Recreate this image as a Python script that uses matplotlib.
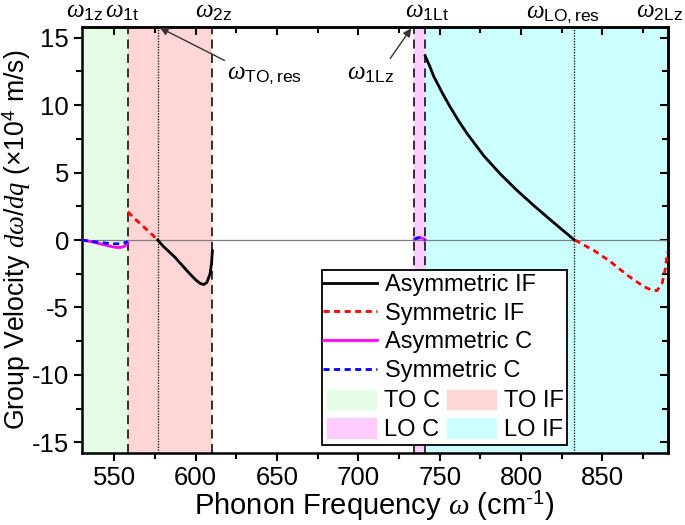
import matplotlib
matplotlib.use("Agg")
import matplotlib.pyplot as plt
from matplotlib.patches import Patch, Rectangle
from matplotlib.lines import Line2D
import matplotlib.transforms as mtransforms

plt.rcParams['font.family'] = ['Liberation Sans', 'DejaVu Sans']
plt.rcParams['mathtext.fontset'] = 'custom'
plt.rcParams['mathtext.rm'] = 'Liberation Sans'
plt.rcParams['mathtext.it'] = 'Liberation Serif:italic'
plt.rcParams['mathtext.bf'] = 'Liberation Sans:bold'
plt.rcParams['axes.unicode_minus'] = False

# ---- data ----
asym_if_1_x = [576.7, 580, 587.4, 595.6, 600, 602.8, 605, 606.9, 608.9, 609.8, 610.3]
asym_if_1_y = [0, -0.45, -1.29, -2.4, -2.95, -3.22, -3.3, -3.15, -2.5, -1.7, -0.8]
asym_if_2_x = [741.1, 744.2, 746.2, 751.4, 756.5, 761.6, 766.8, 777.0, 787.3, 797.5, 807.7, 818.0, 832.8]
asym_if_2_y = [13.65, 12.79, 12.17, 10.95, 9.85, 8.84, 7.9, 6.26, 4.89, 3.68, 2.57, 1.5, 0]
sym_if_1_x = [558.3, 562, 567, 572, 576.7]
sym_if_1_y = [2.1, 1.65, 1.1, 0.55, 0]
sym_if_2_x = [833, 844.7, 854.9, 865.2, 875.4, 880, 883.6, 886.7, 888.5, 890]
sym_if_2_y = [0, -0.77, -1.6, -2.6, -3.45, -3.7, -3.75, -3.2, -2.2, -0.9]
asym_c_1_x = [530, 536, 542, 547, 551, 554, 556.5, 558.3]
asym_c_1_y = [0, -0.12, -0.3, -0.45, -0.55, -0.55, -0.45, -0.2]
sym_c_1_x = [530, 537, 544, 550, 555, 558.3]
sym_c_1_y = [0, -0.12, -0.22, -0.28, -0.28, -0.12]
asym_c_2_x = [734.4, 736, 737.7, 739.5, 741.1]
asym_c_2_y = [0.05, 0.15, 0.18, 0.12, 0.0]
sym_c_2_x = [734.4, 736, 737.7, 739.5, 741.1]
sym_c_2_y = [0.05, 0.14, 0.17, 0.11, 0.0]

w_1z, w_1t, w_TOres, w_2z = 530, 558.3, 576.7, 610.3
w_1Lz, w_1Lt, w_LOres, w_2Lz = 734.4, 741.1, 832.8, 890

col_toc = '#E5FDE5'
col_toif = '#FFD6D6'
col_loc = '#FFCCFF'
col_loif = '#CCFFFF'

fig = plt.figure(figsize=(6.85, 5.25), dpi=100)
ax = fig.add_axes([0.1193, 0.137, 0.8552, 0.8116])
ax.set_xlim(530, 890)
ax.set_ylim(-15.8, 15.8)

ax.axvspan(w_1z, w_1t, color=col_toc, lw=0, zorder=0)
ax.axvspan(w_1t, w_2z, color=col_toif, lw=0, zorder=0)
ax.axvspan(w_1Lz, w_1Lt, color=col_loc, lw=0, zorder=0)
ax.axvspan(w_1Lt, w_2Lz, color=col_loif, lw=0, zorder=0)

ax.axhline(0, color='#808080', lw=0.9, zorder=1)
for xv in [w_1t, w_2z, w_1Lz, w_1Lt]:
    ax.axvline(xv, color='#222222', lw=1.3, ls=(0, (5, 3)), zorder=1.5)
for xv in [w_TOres, w_LOres]:
    ax.axvline(xv, color='#222222', lw=1.0, ls=(0, (1, 1)), zorder=1.5)

dash = (0, (2.2, 1.6))
ax.plot(asym_if_1_x, asym_if_1_y, color='black', lw=2.0, zorder=3)
ax.plot(asym_if_2_x, asym_if_2_y, color='black', lw=2.0, zorder=3)
ax.plot(sym_if_1_x, sym_if_1_y, color='red', lw=2.0, ls=dash, zorder=3)
ax.plot(sym_if_2_x, sym_if_2_y, color='red', lw=2.0, ls=dash, zorder=3)
ax.plot(asym_c_1_x, asym_c_1_y, color='magenta', lw=2.0, zorder=3)
ax.plot(asym_c_2_x, asym_c_2_y, color='magenta', lw=2.0, zorder=3)
ax.plot(sym_c_1_x, sym_c_1_y, color='blue', lw=2.0, ls=dash, zorder=3.2)
ax.plot(sym_c_2_x, sym_c_2_y, color='blue', lw=2.0, ls=dash, zorder=3.2)

# axes styling
for s in ax.spines.values():
    s.set_linewidth(1.8)
ax.set_xticks([550, 600, 650, 700, 750, 800, 850])
ax.set_xticks([575, 625, 675, 725, 775, 825, 875], minor=True)
ax.set_yticks([-15, -10, -5, 0, 5, 10, 15])
ax.set_yticks([-12.5, -7.5, -2.5, 2.5, 7.5, 12.5], minor=True)
ax.tick_params(which='major', direction='out', length=6, width=1.5, labelsize=18.5, pad=3)
ax.tick_params(which='minor', direction='out', length=4, width=1.5)

sx = ax.secondary_xaxis('top')
sx.set_xticks([550, 600, 650, 700, 750, 800, 850])
sx.set_xticks([575, 625, 675, 725, 775, 825, 875], minor=True)
sx.tick_params(which='major', direction='in', length=6, width=1.5, labeltop=False)
sx.tick_params(which='minor', direction='in', length=4, width=1.5)
sx.spines['top'].set_linewidth(1.8)
sy = ax.secondary_yaxis('right')
sy.set_yticks([-15, -10, -5, 0, 5, 10, 15])
sy.set_yticks([-12.5, -7.5, -2.5, 2.5, 7.5, 12.5], minor=True)
sy.tick_params(which='major', direction='in', length=6, width=1.5, labelright=False)
sy.tick_params(which='minor', direction='in', length=4, width=1.5)
sy.spines['right'].set_linewidth(1.8)

ax.set_xlabel('Phonon Frequency $\\omega$ (cm$^{\\rm \u20101}$)', fontsize=21, labelpad=0)
ax.set_ylabel('Group Velocity $d\\omega/dq$ (×10$^{\\rm 4}$ m/s)', fontsize=19.2)
ax.yaxis.set_label_coords(-0.083, 0.5)

# top labels
trans = mtransforms.blended_transform_factory(ax.transData, ax.transAxes)
top_labels = [(532, r'$\omega_{\rm 1z}$'), (555, r'$\omega_{\rm 1t}$'), (611, r'$\omega_{\rm 2z}$'),
              (742, r'$\omega_{\rm 1Lt}$'), (826, r'$\omega_{\rm LO,res}$'), (885, r'$\omega_{\rm 2Lz}$')]
for xv, lab in top_labels:
    ax.text(xv, 1.022, lab, transform=trans, ha='center', va='baseline', fontsize=18, clip_on=False)

ax.annotate(r'$\omega_{\rm TO,res}$', xy=(578.0, 15.75), xytext=(619.4, 12.0),
            ha='left', va='baseline', fontsize=18,
            arrowprops=dict(arrowstyle='-|>', color='#333333', lw=1.0, shrinkA=0, shrinkB=0,
                            mutation_scale=12, relpos=(0.0, 1.0)), zorder=6)
ax.annotate(r'$\omega_{\rm 1Lz}$', xy=(732.5, 15.7), xytext=(693.0, 11.9),
            ha='left', va='baseline', fontsize=18,
            arrowprops=dict(arrowstyle='-|>', color='#333333', lw=1.0, shrinkA=0, shrinkB=0,
                            mutation_scale=12, relpos=(0.88, 1.0)), zorder=6)

# legend
ax.add_patch(Rectangle((0.411, 0.019), 0.418, 0.411, transform=ax.transAxes,
                       facecolor='white', edgecolor='black', lw=1.3, zorder=5))
line_handles = [Line2D([], [], color='black', lw=2.0),
                Line2D([], [], color='red', lw=2.0, ls=dash),
                Line2D([], [], color='magenta', lw=2.0),
                Line2D([], [], color='blue', lw=2.0, ls=dash)]
line_labels = ['Asymmetric IF', 'Symmetric IF', 'Asymmetric C', 'Symmetric C']
leg1 = ax.legend(line_handles, line_labels, loc='upper left', bbox_to_anchor=(0.4125, 0.420),
                 frameon=False, fontsize=17, handlelength=2.29, handletextpad=0.3,
                 labelspacing=0.28, borderpad=0, borderaxespad=0)
leg1.set_zorder(6)
ax.add_artist(leg1)
patch_handles = [Patch(color=col_toc), Patch(color=col_toif), Patch(color=col_loc), Patch(color=col_loif)]
patch_labels = ['TO C', 'TO IF', 'LO C', 'LO IF']
# column-major order for ncol=2: TO C, LO C | TO IF, LO IF
ph = [patch_handles[0], patch_handles[2], patch_handles[1], patch_handles[3]]
pl = [patch_labels[0], patch_labels[2], patch_labels[1], patch_labels[3]]
leg2 = ax.legend(ph, pl, loc='lower left', bbox_to_anchor=(0.4186, 0.0282), ncol=2,
                 frameon=False, fontsize=17, handlelength=2.08, handleheight=0.9,
                 handletextpad=0.34, columnspacing=0.3, labelspacing=0.24,
                 borderpad=0, borderaxespad=0)
leg2.set_zorder(6)

fig.savefig('out.png', dpi=100)
